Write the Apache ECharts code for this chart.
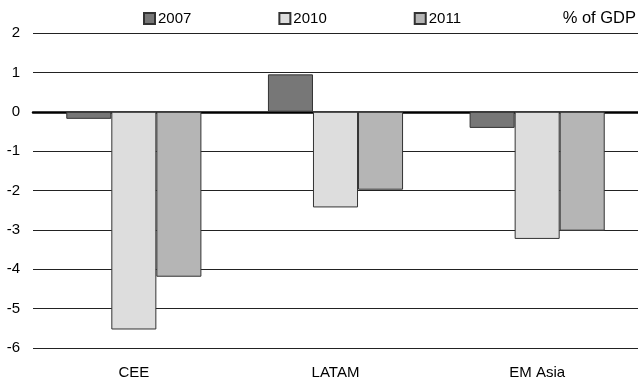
<!DOCTYPE html>
<html>
<head>
<meta charset="utf-8">
<script src="https://cdn.jsdelivr.net/npm/echarts@6/dist/echarts.min.js"></script>
<style>
  html, body { margin: 0; padding: 0; background: #fff; }
  #chart { width: 638px; height: 385px; }
</style>
</head>
<body>
<div id="chart"></div>
<script>
// Regions on the category axis
const categories = ['CEE', 'LATAM', 'EM Asia'];
// Balance by year, % of GDP
const years = ['2007', '2010', '2011'];
const values2007 = [-0.18, 0.95, -0.41];
const values2010 = [-5.53, -2.43, -3.23];
const values2011 = [-4.19, -1.98, -3.02];
const yTicks = [-6, -5, -4, -3, -2, -1, 0, 1, 2];

const fills = ['#777777', '#dddddd', '#b5b5b5'];
const font = 'Liberation Sans, Arial, sans-serif';
const fs = 15;

const chart = echarts.init(document.getElementById('chart'), null, { renderer: 'canvas' });

const seriesData = [values2007, values2010, values2011];

chart.setOption({
  animation: false,
  backgroundColor: '#ffffff',
  textStyle: { fontFamily: font },
  title: {
    text: '% of GDP',
    right: 2,
    top: 10,
    padding: 0,
    textStyle: { fontFamily: font, fontSize: 16.5, fontWeight: 'normal', color: '#000' }
  },
  legend: {
    data: years,
    left: 138,
    top: 6,
    itemWidth: 11,
    itemHeight: 11,
    itemGap: 87,
    textStyle: { fontFamily: font, fontSize: fs, color: '#000', padding: [0, 0, 0, -2] },
    icon: 'rect'
  },
  grid: { left: 33, right: 0, top: 33, bottom: 37, containLabel: false },
  xAxis: {
    type: 'category',
    data: categories,
    axisLine: { onZero: true, lineStyle: { color: '#000', width: 2.5 } },
    axisTick: { show: false },
    axisLabel: { show: false }
  },
  yAxis: {
    type: 'value',
    min: yTicks[0],
    max: yTicks[yTicks.length - 1],
    interval: 1,
    axisLine: { show: false },
    axisTick: { show: false },
    axisLabel: { fontFamily: font, fontSize: fs, color: '#000', margin: 13 },
    splitLine: { lineStyle: { color: '#222', width: 1.2 } }
  },
  series: years.map((y, i) => ({
    name: y,
    type: 'bar',
    data: seriesData[i],
    barGap: '0%',
    barCategoryGap: '33%',
    itemStyle: { color: fills[i], borderColor: '#333', borderWidth: 1 }
  }))
});

// Category names sit under the bottom of the plot, not on the zero line
chart.setOption({
  graphic: categories.map((c) => ({
    type: 'text',
    x: chart.convertToPixel({ xAxisIndex: 0 }, c),
    y: 365,
    style: { text: c, fontFamily: font, fontSize: fs, fill: '#000', align: 'center', verticalAlign: 'top' }
  }))
});
</script>
</body>
</html>
